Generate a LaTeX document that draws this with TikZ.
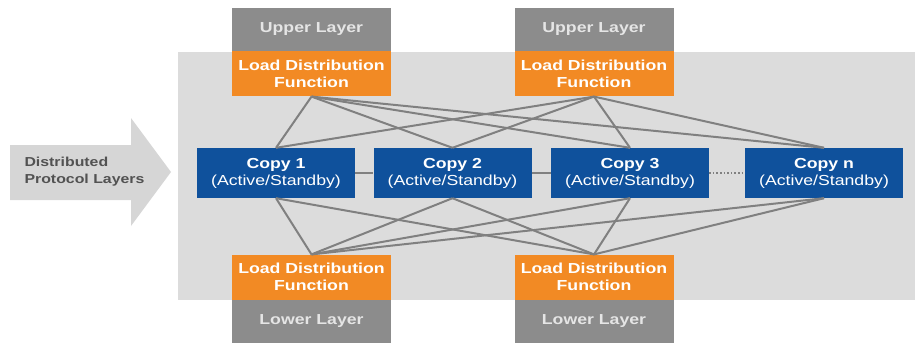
\documentclass[tikz,border=0pt]{standalone}
\usepackage{fontspec}
\setmainfont{Liberation Sans}[FakeStretch=1.22]
\usetikzlibrary{positioning}

\definecolor{layergray}{HTML}{8C8C8C}
\definecolor{ldforange}{HTML}{F28A24}
\definecolor{copyblue}{HTML}{0F519C}
\definecolor{panelgray}{HTML}{DCDCDC}
\definecolor{arrowgray}{HTML}{D6D6D6}
\definecolor{linkgray}{HTML}{808080}

\begin{document}
\begin{tikzpicture}[x=1pt, y=-1pt,
    font=\bfseries\fontsize{14.5}{17}\selectfont,
    layerbox/.style={fill=layergray, text=white!90!black, minimum width=159pt,
      minimum height=43pt, inner sep=0pt},
    ldfbox/.style={fill=ldforange, text=white, align=center, minimum width=159pt,
      minimum height=45pt, inner sep=0pt},
    copybox/.style={fill=copyblue, text=white, align=center, minimum width=158pt,
      minimum height=50pt, inner sep=0pt},
    link/.style={draw=linkgray, line width=2pt}]
  \useasboundingbox (0,0) rectangle (917,343);
  % panel and arrow
  \fill[panelgray] (178,52) rectangle (915,300);
  \fill[arrowgray] (10,145) -- (131,145) -- (131,118) -- (171,172) -- (131,226)
    -- (131,200) -- (10,200) -- cycle;
  \node[anchor=west, align=left, text=black!68, font=\bfseries\fontsize{13}{17}\selectfont]
    (dpl) at (21,172) {Distributed\\Protocol Layers};
  % upper and lower stacks
  \node[layerbox] (up1) at (311.5,29.5) {Upper Layer};
  \node[ldfbox, below=0pt of up1] (ldfu1) {Load Distribution\\Function};
  \node[layerbox] (up2) at (594,29.5) {Upper Layer};
  \node[ldfbox, below=0pt of up2] (ldfu2) {Load Distribution\\Function};
  \node[layerbox] (lo1) at (311.5,321.5) {Lower Layer};
  \node[ldfbox, above=0pt of lo1] (ldfl1) {Load Distribution\\Function};
  \node[layerbox] (lo2) at (594,321.5) {Lower Layer};
  \node[ldfbox, above=0pt of lo2] (ldfl2) {Load Distribution\\Function};
  % copies
  \foreach \n/\x/\lbl in {c1/276/1, c2/452.5/2, c3/630/3, cn/824/n}
    \node[copybox] (\n) at (\x,173) {Copy \lbl\\{\mdseries(Active/Standby)}};
  % links
  \foreach \l in {ldfu1, ldfu2}
    \foreach \c in {c1, c2, c3, cn}
      \draw[link] (\l.south) -- (\c.north);
  \foreach \l in {ldfl1, ldfl2}
    \foreach \c in {c1, c2, c3, cn}
      \draw[link] (\l.north) -- (\c.south);
  \draw[link] (c1) -- (c2);
  \draw[link] (c2) -- (c3);
  \draw[link, line width=1.6pt, dotted] (c3) -- (cn);
\end{tikzpicture}
\end{document}
